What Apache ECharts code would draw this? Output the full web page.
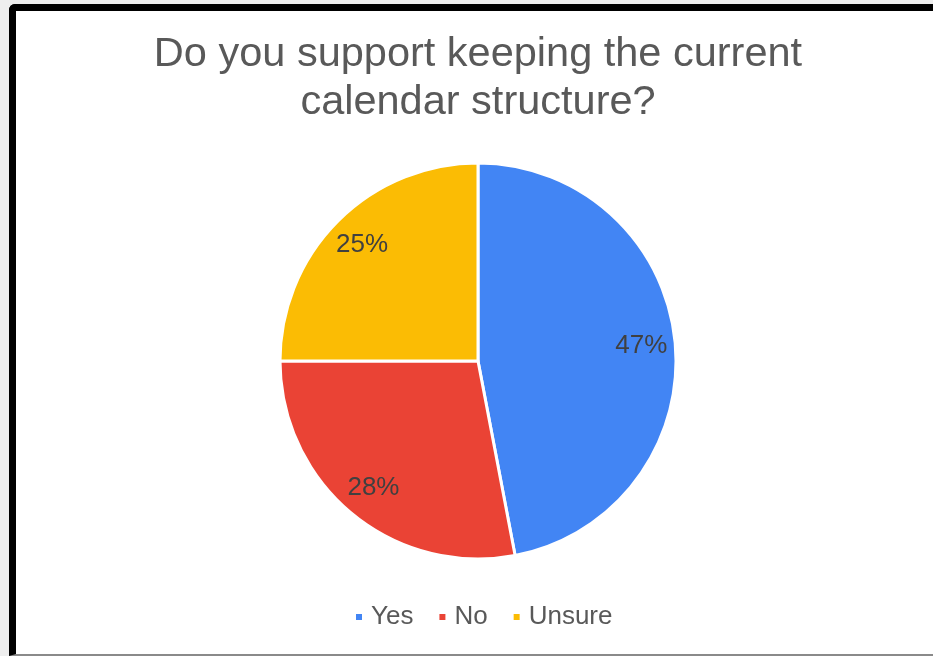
<!DOCTYPE html>
<html>
<head>
<meta charset="utf-8">
<script src="https://cdn.jsdelivr.net/npm/echarts@6/dist/echarts.min.js"></script>
<style>
  html, body { margin: 0; padding: 0; width: 933px; height: 656px; overflow: hidden; background: #eeeeee; }
  #frame {
    position: absolute; left: 9px; top: 4px; width: 940px; height: 643px;
    border-left: 7px solid #000; border-top: 7px solid #000; border-bottom: 2px solid #8a8a8a;
    border-top-left-radius: 6px; background: #fff;
  }
  #chart { position: absolute; left: 0; top: 0; width: 956px; height: 656px; }
</style>
</head>
<body>
<div id="frame"></div>
<div id="chart"></div>
<script>
// Survey answers and their shares (percent)
const categories = ['Yes', 'No', 'Unsure'];
const shares = [47, 28, 25];
const sliceColors = ['#4285F4', '#EA4335', '#FBBC04'];

const chart = echarts.init(document.getElementById('chart'), null, { renderer: 'canvas' });

const pieData = categories.map((name, i) => ({
  name: name,
  value: shares[i],
  itemStyle: { color: sliceColors[i] }
}));

const center = [478, 361];
const outerR = 198;

chart.setOption({
  animation: false,
  title: {
    text: 'Do you support keeping the current\ncalendar structure?',
    left: 'center',
    top: 26,
    textStyle: {
      fontFamily: 'Liberation Sans, Arial, sans-serif',
      fontSize: 41.5,
      fontWeight: 'normal',
      lineHeight: 48,
      color: '#595959'
    }
  },
  legend: {
    data: categories,
    left: 349,
    top: 599,
    icon: 'rect',
    itemWidth: 8,
    itemHeight: 8,
    itemGap: 24,
    selectedMode: false,
    textStyle: {
      fontFamily: 'Liberation Sans, Arial, sans-serif',
      fontSize: 26,
      color: '#595959',
      padding: [0, 0, 0, 3]
    }
  },
  series: [
    {
      type: 'pie',
      center: center,
      radius: [0, outerR],
      startAngle: 90,
      clockwise: true,
      data: pieData,
      label: { show: false },
      labelLine: { show: false },
      itemStyle: { borderColor: '#ffffff', borderWidth: 3 },
      emphasis: { disabled: true }
    },
    {
      // transparent ring that carries the percentage labels at ~80% radius
      type: 'pie',
      center: center,
      radius: [124, outerR],
      startAngle: 90,
      clockwise: true,
      silent: true,
      legendHoverLink: false,
      data: pieData.map(d => ({ name: d.name, value: d.value })),
      itemStyle: { color: 'rgba(0,0,0,0)', borderWidth: 0 },
      label: {
        show: true,
        position: 'inside',
        formatter: p => Math.round(p.percent) + '%',
        fontFamily: 'Liberation Sans, Arial, sans-serif',
        fontSize: 26,
        color: '#404040'
      },
      labelLine: { show: false },
      emphasis: { disabled: true }
    }
  ]
});
</script>
</body>
</html>
